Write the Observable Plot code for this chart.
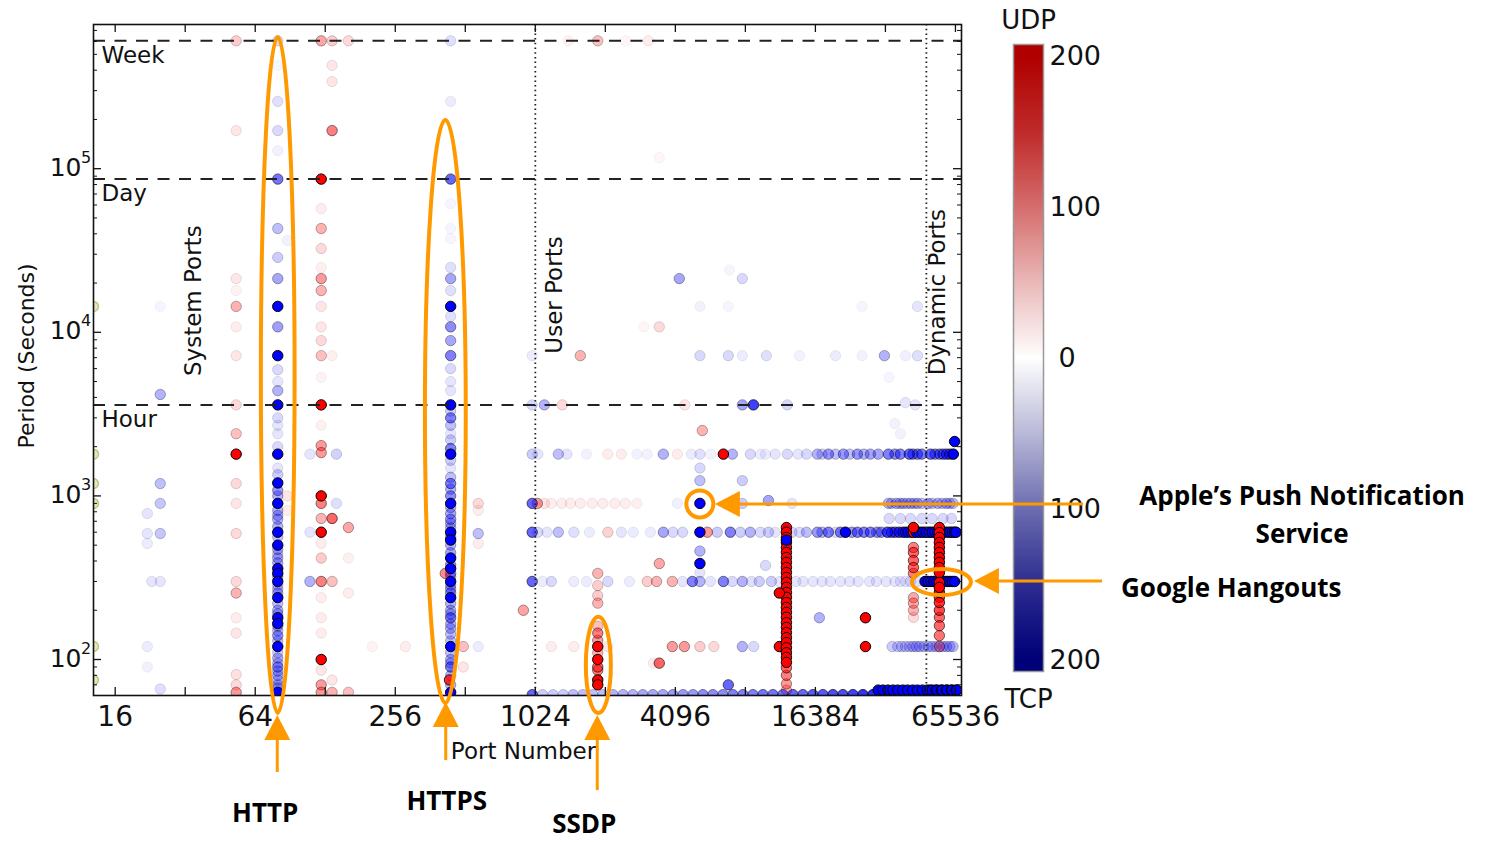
<!DOCTYPE html>
<html><head><meta charset="utf-8">
<script src="https://cdn.jsdelivr.net/npm/d3@7"></script>
<script src="https://cdn.jsdelivr.net/npm/@observablehq/plot@0.6"></script>
<style>
body{margin:0;background:#fff;}
#wrap{position:relative;width:1497px;height:842px;overflow:hidden;background:#fff;}
#wrap svg{position:absolute;top:0;}
</style></head><body><div id="wrap"></div>
<script>
// ---------- DATA: [port, period (s), count]  (count > 0 = UDP, count < 0 = TCP) ----------
const systemPorts = [
 [80,604800,-30],[80,428000,-8],[80,258000,-25],[80,171000,-30],[80,129000,-10],[80,86400,-110],
 [80,43100,-50],[80,28700,-40],[80,21300,-70],[80,14400,-200],[80,10800,-75],[80,7200,-200],
 [80,5900,-30],[80,5000,-20],[80,4400,-60],[80,3600,-200],[80,3000,-30],[80,2700,-20],[80,2400,-20],[80,2000,-30],
 [80,1800,-200],[80,1480,-20],[80,1350,-40],[80,1200,-200],[80,1080,-80],[80,1000,-60],[80,900,-200],[80,815,-60],
 [80,760,-60],[80,720,-60],[80,650,-60],[80,600,-200],[80,560,-50],[80,500,-200],[80,470,-60],[80,440,-40],
 [80,417,-60],[80,390,-60],[80,360,-200],[80,336,-200],[80,320,-60],[80,300,-200],[80,285,-40],[80,270,-50],
 [80,255,-60],[80,239,-200],[80,220,-50],[80,200,-60],[80,190,-60],[80,180,-200],[80,166,-200],[80,160,-60],
 [80,150,-50],[80,140,-80],[80,130,-50],[80,120,-200],[80,110,-40],[80,102,-60],[80,95,-50],[80,90,-80],
 [80,85,-60],[80,80,-60],[80,75,-50],[80,70,-60],[80,67,-60],[80,63,-200],
 [443,604800,-25],[443,258000,-15],[443,86400,-120],[443,61300,-8],[443,43100,-8],[443,37400,-8],[443,24900,-25],
 [443,21300,-70],[443,18000,-25],[443,14400,-200],[443,12500,-25],[443,10800,-90],[443,8900,-70],[443,7200,-100],
 [443,6000,-30],[443,5000,-20],[443,4400,-20],[443,3600,-200],[443,3300,-40],[443,3000,-100],[443,2700,-50],
 [443,2400,-20],[443,2200,-40],[443,1950,-100],[443,1800,-200],[443,1650,-40],[443,1480,-20],[443,1300,-50],
 [443,1190,-100],[443,1100,-60],[443,1000,-90],[443,900,-200],[443,850,-60],[443,780,-70],[443,720,-80],
 [443,680,-60],[443,640,-60],[443,600,-200],[443,560,-80],[443,537,-200],[443,500,-60],[443,450,-70],
 [443,417,-200],[443,380,-80],[443,360,-200],[443,336,-90],[443,320,-60],[443,300,-200],[443,285,-60],
 [443,270,-70],[443,255,-80],[443,239,-200],[443,220,-60],[443,200,-60],[443,190,-60],[443,180,-100],
 [443,165,-60],[443,155,-60],[443,143,-50],[443,130,-50],[443,120,-200],[443,110,-50],[443,100,-60],
 [443,95,-60],[443,90,-100],[443,80,-60],[443,70,-60],[443,63,-200],[438,75,160],[420,336,90],
 [123,604800,70],[123,86400,200],[123,57100,15],[123,43100,60],[123,32500,30],[123,24900,12],[123,21300,80],
 [123,18000,60],[123,14400,20],[123,10800,20],[123,8900,30],[123,7200,50],[123,5300,10],[123,3600,200],
 [123,2700,12],[123,2030,80],[123,1840,80],[123,1000,200],[123,900,100],[123,728,60],[123,600,200],
 [123,512,15],[123,417,40],[123,300,100],[123,239,15],[123,180,15],[123,145,15],[123,100,200],[123,86,20],
 [123,70,80],[123,63,80],
 [137,604800,40],[137,428000,20],[137,341000,20],[137,171000,100],[137,7200,12],[137,728,120],[137,300,50],
 [137,75,20],[137,63,60],[143,1800,-35],[143,900,-25],
 [161,604800,30],[161,641,70],[161,417,12],[161,255,15],[161,63,50],
 [53,604800,40],[53,171000,20],[53,21300,20],[53,18000,10],[53,14400,60],[53,10800,15],[53,7200,20],[53,3600,30],
 [53,2400,50],[53,1800,200],[53,1190,30],[53,900,20],[53,589,30],[53,300,30],[53,255,60],[53,180,15],[53,145,20],
 [53,81,25],[53,70,30],[53,63,80],
 [25,14400,-8],[25,4170,-60],[25,1190,-50],[25,900,-45],[25,589,-45],[25,300,-20],[25,66,-25],
 [22,780,-20],[22,589,-20],[22,512,-15],[22,120,-15],[22,90,-10],[23,300,-20],
 [110,1800,-20],[110,600,-20],[110,300,-60],[88,1000,20],[88,815,15],[88,36400,-10],
 [582,900,30],[582,815,15],[582,589,-50],[582,512,15],[502,120,50],[502,90,20],[910,200,40],[283,120,15],
 [204,120,10],[582,120,-15],
 [993,7200,-15],[993,3600,-30],[993,1800,-40],[993,900,-120],[993,600,-120],[993,300,-120],[993,61,-100],
 [1000,61,-40]
];
const userPorts = [
 [1045,900,80],[1120,900,20],[1200,900,15],[1330,900,15],[1450,900,15],[1600,900,15],[1800,900,15],[2000,900,15],
 [2250,900,15],[2500,900,15],[2800,900,12],
 [1120,3600,-60],[1338,3600,30],[4500,3600,20],[7950,3600,-70],[8870,3600,-150],[12410,3600,-30],[39940,3720,-20],[44000,3600,-20],
 [1599,7200,60],[5223,7200,-30],[6920,7200,-30],[7950,7200,-15],[10080,7200,-25],[14000,7200,-10],[20000,7200,-15],
 [26000,7200,-10],[32450,7200,-60],[40000,7200,-12],[45000,7200,-25],
 [1900,604800,50],[1420,604800,10],[2500,604800,8],[3134,604800,15],[3494,117000,8],[4260,21300,-70],[7950,21300,-30],
 [7000,24000,-8],[3494,10800,30],[3000,10800,8],[44990,14400,-20],[6920,14400,-8],[26000,14400,-8],[34000,5300,-8],
 [36000,2770,-10],[38000,2400,-10],
 [1050,1800,-20],[1286,1800,-50],[1400,1800,-20],[1700,1800,-10],[2100,1800,15],[2400,1800,15],[2800,1800,-10],
 [3100,1800,-10],[3637,1800,-60],[4178,1800,15],[4800,1800,-15],[5223,1800,-25],[5800,1800,-10],[6590,1800,200],
 [7200,1800,-60],[8600,1800,-30],[9500,1800,-15],[10000,1800,-15],[11000,1800,-20],[12410,1800,-30],[13800,1800,-20],
 [15000,1800,-30],[16710,1800,-60],[17500,1800,-40],[18640,1800,-80],[20000,1800,-50],[21620,1800,-80],
 [23000,1800,-50],[24830,1800,-80],[26500,1800,-60],[28250,1800,-70],[30500,1800,-70],[33750,1800,-100],
 [36000,1800,-90],[38000,1800,-100],[41500,1800,-120],[43000,1800,-100],[45000,1800,-100],[47000,1800,-100],
 [5223,900,-200],[5223,386,-200],[5223,600,-200],[5223,1240,-50],[5223,1480,-30],[5350,2510,60],[5223,460,-60],
 [5223,340,-20],[5223,14400,-10],
 [4178,900,-12],[7950,900,-40],[10290,937,-70],[13000,900,-20],[33750,900,-60],[34800,900,-50],[36500,900,-60],
 [37800,900,-50],[39000,900,-60],[40500,900,-50],[42000,900,-60],[43500,900,-50],[45000,900,-60],[47000,900,-50],
 [34000,728,-30],[38000,728,-30],[42000,728,-30],[47000,728,-30],
 [1050,600,-30],[1150,600,-20],[1286,600,-50],[1500,600,-25],[1750,600,-15],[2100,600,35],[2400,600,-20],
 [2700,600,-15],[3200,600,-15],[3637,600,-70],[4000,600,-30],[4400,600,-30],[5620,600,80],[6200,600,-40],
 [7060,600,-100],[7800,600,-40],[8600,600,-60],[9500,600,-30],[10300,600,-40],[11000,600,-20],[13000,600,-30],
 [14000,600,-30],[15000,600,-50],[16710,600,-80],[17500,600,-60],[18640,600,-100],[20000,600,-30],[21000,600,-100],
 [22060,600,-200],[23500,600,-80],[24830,600,-100],[26500,600,-100],[28250,600,-100],[30000,600,-60],
 [30500,600,-40],[31500,600,-80],[33420,600,-140],[34800,600,-120],[36000,600,-120],[37500,600,-140],
 [39000,600,-140],[40000,600,-140],[41000,600,-150],[42300,600,-160],[43250,600,200],[44500,600,-200],
 [46000,600,-200],[47500,600,-200],
 [1100,300,-15],[1200,300,-30],[1500,300,-15],[1700,300,-15],[2100,300,-30],[2600,300,-15],[3100,300,40],
 [3400,300,60],[3975,300,60],[4400,300,-20],[4846,300,-100],[5223,300,-60],[5800,300,-20],[6590,300,-100],
 [7200,300,-30],[7950,300,-60],[8700,300,-25],[9400,300,-40],[10600,300,-40],[11500,300,-20],[13500,300,-20],
 [14500,300,-20],[16000,300,-20],[17500,300,-20],[19000,300,-20],[21000,300,-20],[23000,300,-20],[25000,300,-20],
 [28000,300,-20],[30000,300,-20],[33000,300,-20],[36000,300,-20],[38000,300,-20],[40000,300,-20],[42000,300,-25],
 [45000,300,-25],
 [1200,120,15],[1500,120,15],[2100,120,20],[3975,120,80],[4480,120,80],[5223,120,40],[6000,120,30],[7950,120,-60],
 [8900,120,-30],[11470,120,200],[26900,120,200],[35000,120,-40],[37000,120,-40],[38500,120,-40],[40000,120,-40],
 [41500,120,-40],[43000,120,-50],[44500,120,-50],[46000,120,-50],[48000,120,-50],
 [1900,336,60],[1900,283,40],[1900,246,40],[1900,221,60],[1900,160,50],[1900,145,100],[1900,131,80],[1900,120,200],
 [1900,110,60],[1900,100,200],[1900,90,120],[1900,86,100],[1900,75,200],[1900,70,200],
 [3494,386,70],[3494,95,120],[3300,95,15],[6920,70,-120],[17040,180,-60],[10000,376,-30],[910,200,40],[7950,1240,-40],
 [12300,641,200],[12300,600,200],[12300,557,200],[12300,519,200],[12300,484,200],[12300,451,200],[12300,420,200],
 [12300,392,200],[12300,365,200],[12300,340,200],[12300,317,200],[12300,296,200],[12300,276,200],[12300,257,200],
 [12300,240,200],[12300,223,200],[12300,208,200],[12300,194,200],[12300,181,200],[12300,168,200],[12300,157,200],
 [12300,146,200],[12300,136,200],[12300,127,200],[12300,118,200],[12300,110,200],[12300,103,200],[12300,96,200],
 [12300,89,120],[12300,80,100],[12300,71,80],[12300,65,60],[12300,537,-200],[11470,255,200],[26900,180,200],
 [43250,641,200],[43250,484,100],[43250,451,120],[43250,403,120],[43250,365,120],[43250,336,100],[43250,239,70],
 [43250,221,70],[43250,200,60],[43250,181,30],
 [1100,61,-40],[1220,61,-40],[1350,61,-40],[1490,61,-50],[1640,61,-50],[1810,61,-50],[2000,61,-50],[2210,61,-60],
 [2440,61,-60],[2690,61,-60],[2970,61,-70],[3280,61,-70],[3620,61,-70],[4000,61,-80],[4420,61,-80],[4880,61,-80],
 [5380,61,-90],[5940,61,-90],[6560,61,-90],[7240,61,-100],[8000,61,-100],[8830,61,-100],[9750,61,-110],
 [10760,61,-110],[11880,61,-110],[13120,61,-120],[14480,61,-120],[15990,61,-130],[17650,61,-130],[19490,61,-140],
 [21520,61,-140],[23760,61,-150],[26230,61,-160],[28960,61,-170],
 [30500,65,-200],[32000,65,-200],[33600,65,-200],[35300,65,-200],[37000,65,-200],[38900,65,-200],[40800,65,-200],
 [42900,65,-200],[45000,65,-200],[47300,65,-200],[48500,300,-200]
];
const dynamicPorts = [
 [51170,1800,-120],[53500,1800,-100],[56000,1800,-100],[58000,1800,-110],[60000,1800,-120],[62000,1800,-120],
 [64160,1800,-200],[65000,2150,-200],
 [50000,900,-60],[52000,900,-50],[55000,900,-60],[57500,900,-50],[60000,900,-60],[62000,900,-50],[64000,900,-50],
 [52000,728,-30],[58000,728,-30],[63000,728,-30],
 [49000,600,-200],[50500,600,-200],[52000,600,-200],[53500,600,-200],[55000,600,-200],[56500,600,-200],
 [58000,600,-200],[60000,600,-200],[62000,600,-200],[63500,600,-200],[65000,600,-200],[66000,600,-200],
 [50000,300,-200],[51500,300,-200],[53000,300,-200],[54500,300,-200],[56000,300,-200],[57500,300,-200],
 [59000,300,-200],[60500,300,-200],[62000,300,-200],[63500,300,-200],[65000,300,-200],
 [55900,641,200],[55900,597,200],[55900,557,200],[55900,519,200],[55900,484,200],[55900,451,200],[55900,420,200],
 [55900,392,200],[55900,365,200],[55900,340,200],[55900,296,200],[55900,276,200],[55900,257,180],[55900,240,160],
 [55900,223,160],[55900,200,140],[55900,181,120],[55900,161,120],[55900,140,110],[55900,120,60],
 [50000,120,-50],[52000,120,-50],[54000,120,-50],[56000,120,-50],[58000,120,-50],[60000,120,-50],[62000,120,-50],
 [64000,120,-50],
 [49600,65,-200],[51000,65,-200],[52100,65,-200],[54000,65,-200],[54700,65,-200],[57000,65,-200],[57400,65,-200],
 [60000,65,-200],[60300,65,-200],[63000,65,-200],[63300,65,-200],[66000,65,-200],[66400,65,-200]
];
const edgePeriods = [14400, 1800, 1190, 900, 120, 75];

const timeMarks = [{label: "Week", seconds: 604800}, {label: "Day", seconds: 86400}, {label: "Hour", seconds: 3600}];
const rangeBounds = [1024, 49152];
const rangeLabels = [
  {label: "System Ports", port: 37.5, period: 15600},
  {label: "User Ports", port: 1338, period: 16900},
  {label: "Dynamic Ports", port: 59300, period: 17600}
];
const xTicks = [16, 64, 256, 1024, 4096, 16384, 65536];
const xMinorTicks = [32, 128, 512, 2048, 8192, 32768];
const yTicks = [100, 1000, 10000, 100000];
const cbTicks = [-200, -100, 100, 200];
const cbZeroTick = [0];
const cbStops = [-200, -150, -100, -50, 0, 50, 100, 150, 200];
const cbColors = ["#000078", "#2c2c90", "#6c6cb0", "#b9b9d9", "#ffffff", "#eab8b8", "#d56d6d", "#bf2a2a", "#b00000"];

const calloutLabels = ["HTTP", "HTTPS", "SSDP", "Apple’s Push Notification\nService", "Google Hangouts"];
const calloutEllipses = [
  {ports: [68, 95], periods: [634000, 46.8]},
  {ports: [345, 517], periods: [197000, 53.9]},
  {ports: [1697, 2174], periods: [181, 46.8]},
  {ports: [4590, 5996], periods: [1072, 733]},
  {ports: [42800, 76800], periods: [355, 246]}
];
const calloutArrows = [
  {tip: [80, 45.5], tail: [80, 20.4], dx: -12, dy: 50, anchor: "middle"},
  {tip: [424, 54.6], tail: [424, 24.1], dx: 1, dy: 50, anchor: "middle"},
  {tip: [1900, 45.5], tail: [1900, 15.8], dx: -13, dy: 43, anchor: "middle"},
  {tip: [6087, 886], tail: [233000, 886], dx: 219, dy: 1, anchor: "middle"},
  {tip: [79100, 300], tail: [281000, 300], dx: 19, dy: 16, anchor: "start"}
];

// ---------- BUILD ----------
const points = d3.sort(
  [...systemPorts, ...userPorts, ...dynamicPorts].map(([port, period, count]) => ({port, period, count})),
  d => Math.abs(d.count)
);
const alpha = d => Math.min(1, Math.abs(d.count) / 200);

const W = 1497, H = 842;
const fL = 93, fR = 961, fT = 24, fB = 695;
const frameW = fR - fL, frameH = fB - fT;
const xDomain = [12.91, 69590];
const yDomain = [60.26, 761000];
const yMinorTicks = d3.range(1, 6).flatMap(k => d3.range(2, 10).map(m => m * 10 ** k))
  .filter(v => v > yDomain[0] && v < yDomain[1]);
const orange = "#ff9900";

function calloutMark(index, scales) {
  const x = scales.x, y = scales.y;
  const g = d3.create("svg:g");
  for (const e of calloutEllipses) {
    const x1 = x(e.ports[0]), x2 = x(e.ports[1]), y1 = y(e.periods[0]), y2 = y(e.periods[1]);
    g.append("ellipse").attr("cx", (x1 + x2) / 2).attr("cy", (y1 + y2) / 2)
      .attr("rx", Math.abs(x2 - x1) / 2).attr("ry", Math.abs(y2 - y1) / 2)
      .attr("fill", "none").attr("stroke", orange).attr("stroke-width", 4);
  }
  calloutArrows.forEach((a, i) => {
    const tx = x(a.tip[0]), ty = y(a.tip[1]), sx = x(a.tail[0]), sy = y(a.tail[1]);
    const len = Math.hypot(tx - sx, ty - sy), ux = (tx - sx) / len, uy = (ty - sy) / len;
    const head = 25, half = 13;
    const bx = tx - ux * head, by = ty - uy * head;
    g.append("line").attr("x1", sx).attr("y1", sy).attr("x2", bx).attr("y2", by)
      .attr("stroke", orange).attr("stroke-width", 3);
    g.append("path").attr("fill", orange)
      .attr("d", `M${tx},${ty}L${bx - uy * half},${by + ux * half}L${bx + uy * half},${by - ux * half}Z`);
    const t = g.append("text").attr("text-anchor", a.anchor)
      .attr("font-family", "'Open Sans', Lato, sans-serif").attr("font-weight", 700)
      .attr("font-size", 26).attr("fill", "#000");
    calloutLabels[i].split("\n").forEach((line, j) => {
      t.append("tspan").attr("x", sx + a.dx).attr("y", sy + a.dy + j * 38).text(line);
    });
  });
  return g.node();
}

const main = Plot.plot({
  width: W, height: H,
  marginLeft: fL, marginRight: W - fR, marginTop: fT, marginBottom: H - fB,
  style: {background: "transparent", fontFamily: "'DejaVu Sans', sans-serif", color: "#111", overflow: "visible"},
  x: {type: "log", domain: xDomain, axis: null},
  y: {type: "log", domain: yDomain, axis: null},
  marks: [
    Plot.dot(edgePeriods, {x: () => xDomain[0], y: d => d, r: 5, fill: "#c9c96a", fillOpacity: 0.45,
      stroke: "#8a8a30", strokeOpacity: 0.45, clip: true}),
    Plot.dot(points, {x: "port", y: "period", r: 5.2,
      fill: d => d.count > 0 ? "#ff0000" : "#0000ff", fillOpacity: alpha,
      stroke: "#000", strokeOpacity: alpha, strokeWidth: 1, clip: true}),
    Plot.ruleY(timeMarks, {y: "seconds", stroke: "#222", strokeWidth: 2, strokeDasharray: "12,9.5"}),
    Plot.text(timeMarks, {y: "seconds", text: "label", frameAnchor: "left", dx: 8, dy: 22,
      textAnchor: "start", lineAnchor: "bottom", fontSize: 23}),
    Plot.ruleX(rangeBounds, {x: d => d, stroke: "#222", strokeWidth: 1.8, strokeDasharray: "1.5,3.2"}),
    Plot.text(rangeLabels, {x: "port", y: "period", text: "label", rotate: -90, textAnchor: "middle",
      lineAnchor: "bottom", fontSize: 23}),
    // ticks (inward, on all four sides)
    Plot.ruleX([...xTicks, ...xMinorTicks], {x: d => d, insetTop: frameH - 8, stroke: "#111", strokeWidth: 1.3}),
    Plot.ruleX([...xTicks, ...xMinorTicks], {x: d => d, insetBottom: frameH - 8, stroke: "#111", strokeWidth: 1.3}),
    Plot.ruleY(yTicks, {y: d => d, insetRight: frameW - 8, stroke: "#111", strokeWidth: 1.3}),
    Plot.ruleY(yTicks, {y: d => d, insetLeft: frameW - 8, stroke: "#111", strokeWidth: 1.3}),
    Plot.ruleY(yMinorTicks, {y: d => d, insetRight: frameW - 4, stroke: "#111", strokeWidth: 1}),
    Plot.ruleY(yMinorTicks, {y: d => d, insetLeft: frameW - 4, stroke: "#111", strokeWidth: 1}),
    Plot.frame({stroke: "#111", strokeWidth: 1.6}),
    // tick labels
    Plot.text(xTicks, {x: d => d, text: d => String(d), frameAnchor: "bottom", dy: 30, lineAnchor: "bottom", fontSize: 28}),
    Plot.text(yTicks, {y: d => d, text: () => "10", frameAnchor: "left", dx: -12, dy: 7,
      textAnchor: "end", lineAnchor: "bottom", fontSize: 25}),
    Plot.text(yTicks, {y: d => d, text: d => String(Math.round(Math.log10(d))), frameAnchor: "left", dx: -12.5, dy: -6,
      textAnchor: "start", lineAnchor: "bottom", fontSize: 16}),
    // axis titles
    Plot.text(["Period (Seconds)"], {text: d => d, frameAnchor: "left", rotate: -90, dx: -60, dy: -4,
      textAnchor: "middle", lineAnchor: "bottom", fontSize: 22}),
    Plot.text(["Port Number"], {text: d => d, frameAnchor: "bottom", dx: -4, dy: 63, textAnchor: "middle",
      lineAnchor: "bottom", fontSize: 23}),
    calloutMark
  ]
});

const cbLeft = 960, cbW = 200, cbH = 720;
const cbDomain = [-207.6, 207.6];
const colorbar = Plot.plot({
  width: cbW, height: cbH,
  marginTop: 44, marginBottom: cbH - 671, marginLeft: 1013 - cbLeft, marginRight: cbW - (1043 - cbLeft),
  style: {background: "transparent", fontFamily: "'DejaVu Sans', sans-serif", color: "#111"},
  x: {domain: [0, 1], axis: null},
  y: {domain: cbDomain, axis: null},
  color: {type: "linear", domain: cbStops, range: cbColors, clamp: true, interpolate: "rgb"},
  marks: [
    Plot.raster({x1: 0, x2: 1, y1: cbDomain[0], y2: cbDomain[1], width: 4, height: 420,
      fill: (x, y) => y, imageRendering: "auto"}),
    Plot.frame({stroke: "#999", strokeWidth: 1.5}),
    Plot.text(cbTicks, {y: d => d, text: d => String(Math.abs(d)), frameAnchor: "right", dx: 6,
      textAnchor: "start", fontSize: 27}),
    Plot.text(cbZeroTick, {y: d => d, text: d => String(d), frameAnchor: "right", dx: 15,
      textAnchor: "start", fontSize: 27}),
    Plot.text(["UDP"], {text: d => d, frameAnchor: "top", dy: -16, lineAnchor: "bottom", fontSize: 26}),
    Plot.text(["TCP"], {text: d => d, frameAnchor: "bottom", dy: 36, lineAnchor: "bottom", fontSize: 26})
  ]
});

const wrap = document.getElementById("wrap");
colorbar.style.left = cbLeft + "px";
colorbar.style.zIndex = 1;
main.style.left = "0px";
main.style.zIndex = 2;
wrap.appendChild(colorbar);
wrap.appendChild(main);
</script></body></html>
